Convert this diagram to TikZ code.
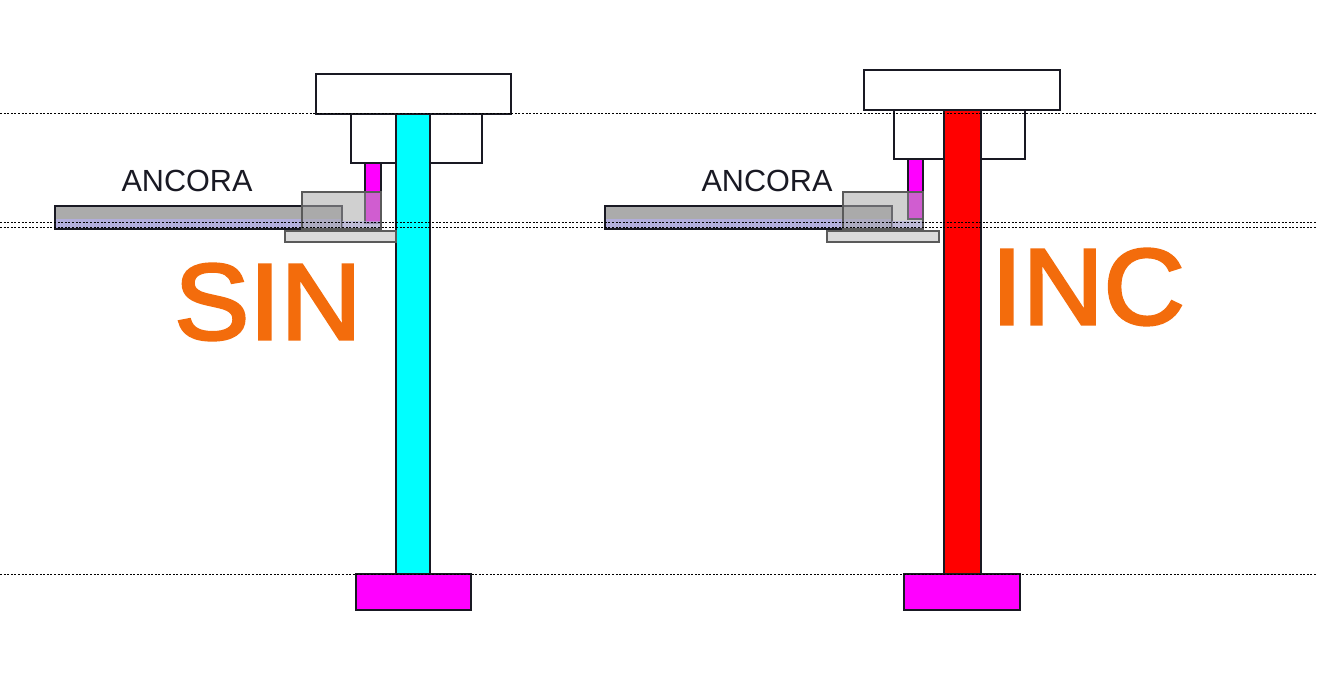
\documentclass[tikz,border=0pt]{standalone}
\usepackage{fontspec}
\setmainfont{Liberation Sans}
\newfontfamily\heavyfont[FakeBold=2.6]{Liberation Sans}
\definecolor{labelorange}{RGB}{243,108,12}
\definecolor{anchorgray}{RGB}{171,171,171}
\definecolor{anchorblue}{RGB}{178,174,220}
\definecolor{columncyan}{RGB}{0,255,255}
\definecolor{columnred}{RGB}{255,0,0}
\definecolor{footmagenta}{RGB}{255,0,255}
\definecolor{bracketgray}{RGB}{170,170,170}
\definecolor{plategray}{RGB}{218,218,218}
\definecolor{linedark}{RGB}{25,25,35}
\definecolor{linegray}{RGB}{90,90,90}
\tikzset{
  plate/.style={draw=linedark,line width=2.4pt,fill=white},
  bracket/.style={draw=linegray,line width=2.4pt,fill=bracketgray,fill opacity=0.55},
  lowplate/.style={draw=linegray,line width=2.4pt,fill=plategray},
  level/.style={black,line width=0.7pt,dash pattern=on 2pt off 1.6pt},
  bigtext/.style={text=labelorange,font=\heavyfont\fontsize{108}{108}\selectfont,inner sep=0pt,xscale=1.04},
  smalltext/.style={text=linedark,font=\fontsize{30.6}{31}\selectfont,inner sep=0pt}
}
\begin{document}
\begin{tikzpicture}[x=1pt,y=-1pt]
      \useasboundingbox[fill=white] (0,0) rectangle (1317,675);

      % Anchor bars
      \fill[anchorgray] (55,206) rectangle (342,219);
      \fill[anchorblue] (55,219) rectangle (342,229);
      \draw[linedark,line width=2.4pt] (55,206) rectangle (342,229);
      \fill[anchorgray] (605,206) rectangle (892,219);
      \fill[anchorblue] (605,219) rectangle (892,229);
      \draw[linedark,line width=2.4pt] (605,206) rectangle (892,229);

      % Top plates
      \draw[plate,fill=none] (351,114) rectangle (482,163);
      \draw[plate] (316,74) rectangle (511,114);
      \draw[plate,fill=none] (894,110) rectangle (1025,159);
      \draw[plate] (864,70) rectangle (1060,110);

      % Draw columns
      \draw[plate,fill=columncyan] (396,114) rectangle (430,574);
      \draw[plate,fill=columnred] (944,110) rectangle (981,574);

      % Feet
      \draw[plate,fill=footmagenta] (356,574) rectangle (471,610);
      \draw[plate,fill=footmagenta] (904,574) rectangle (1020,610);

      % Magenta strips
      \draw[plate,fill=footmagenta] (365,163) rectangle (381,223);
      \draw[plate,fill=footmagenta] (908,159) rectangle (923,219);

      % Gray brackets
      \draw[bracket] (302,192) rectangle (381,229);
      \draw[bracket] (843,192) rectangle (923,229);
      \fill[anchorblue,opacity=0.6] (342,221) rectangle (380,228);
      \fill[anchorblue,opacity=0.6] (892,221) rectangle (922,228);
      \draw[lowplate] (285,231) rectangle (396,242);
      \draw[lowplate] (827,231) rectangle (939,242);

      % Level lines
      \draw[level] (0,113) -- (1317,113);
      \draw[level] (0,222) -- (1317,222);
      \draw[level] (0,227) -- (1317,227);
      \draw[level] (0,574) -- (1317,574);

      % Labels
      \node[smalltext] (ancoraleft) at (187,181) {ANCORA};
      \node[smalltext] (ancoraright) at (767,181) {ANCORA};
      \node[bigtext] (sinlabel) at (268,302) {SIN};
      \node[bigtext] (inclabel) at (1088,287) {INC};
\end{tikzpicture}
\end{document}
